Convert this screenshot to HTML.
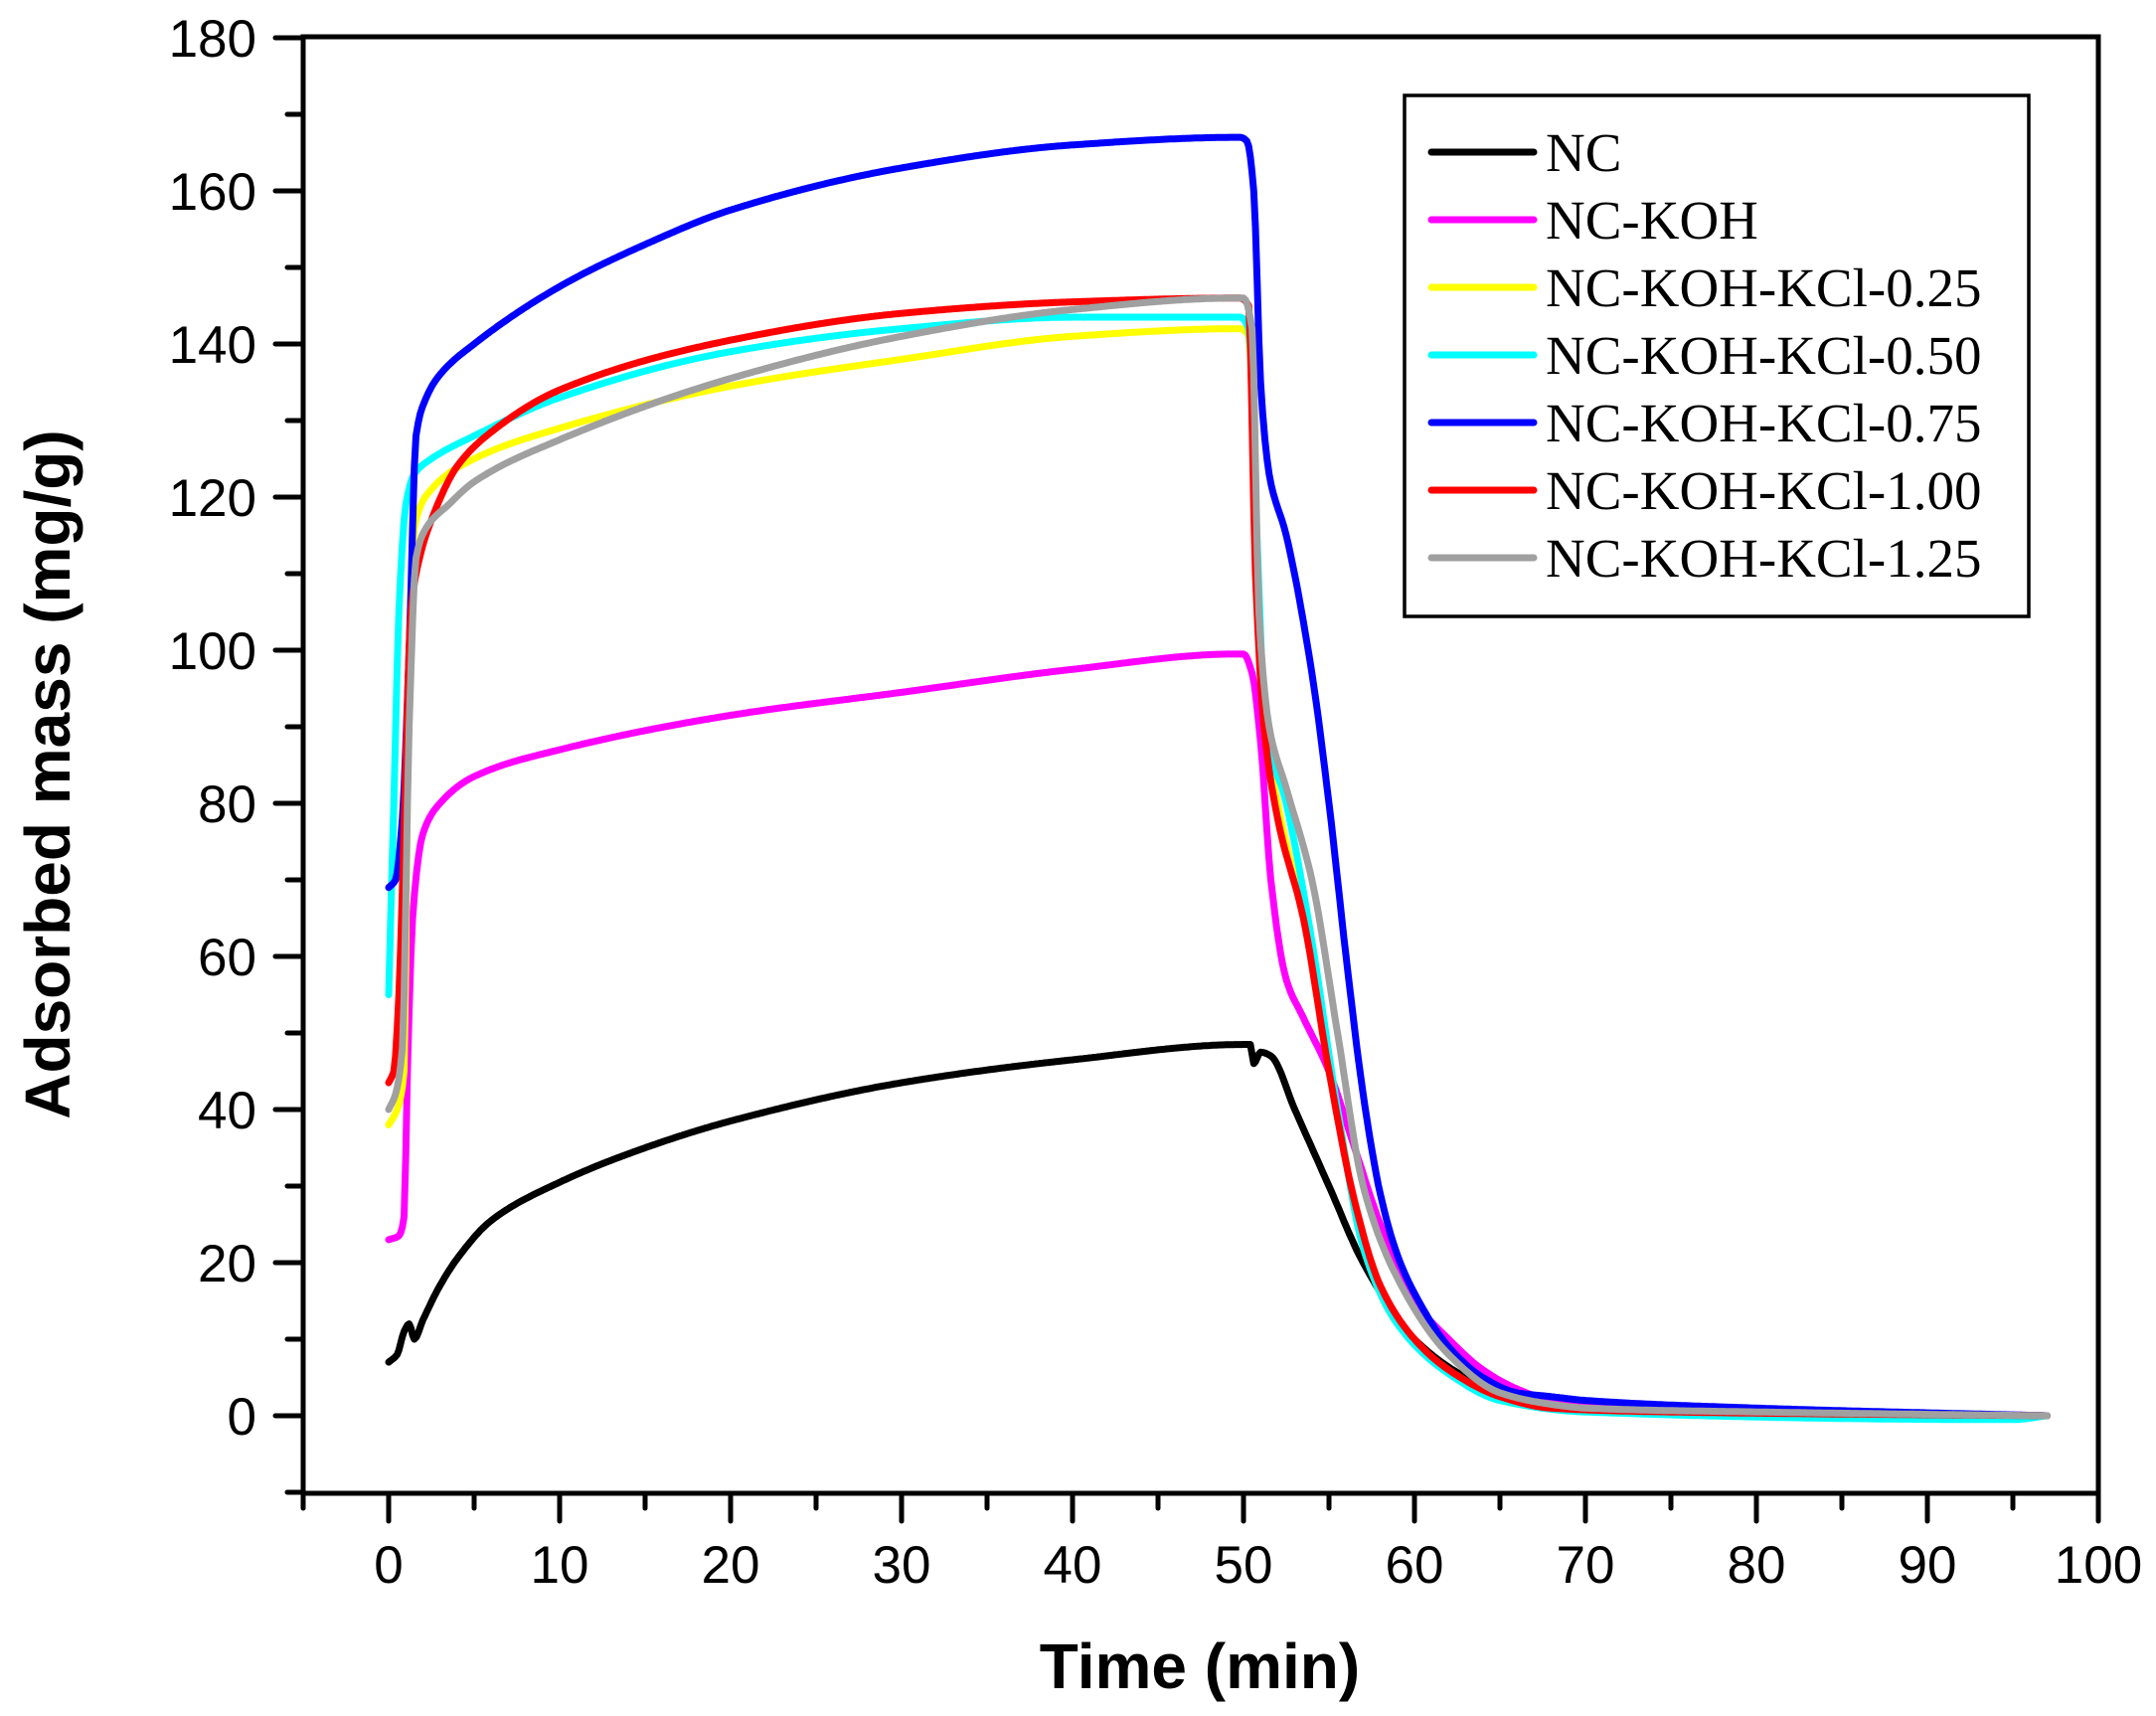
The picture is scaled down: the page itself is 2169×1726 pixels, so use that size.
<!DOCTYPE html>
<html><head><meta charset="utf-8"><style>
html,body{margin:0;padding:0;background:#fff;}
svg{display:block;}
</style></head><body>
<svg id="s" width="2169" height="1726" viewBox="0 0 2169 1726" xmlns="http://www.w3.org/2000/svg">
<g id="curves" fill="none" stroke-width="7" stroke-linejoin="round" stroke-linecap="round"></g>
<g id="axes" stroke="#000" stroke-width="5" stroke-linecap="round" fill="none"></g>
<g id="labels" font-family="Liberation Sans, Arial, sans-serif" font-size="53" fill="#000"></g>
<text x="1207" y="1698" font-family="Liberation Sans, Arial, sans-serif" font-weight="bold" font-size="64" text-anchor="middle">Time (min)</text>
<text transform="translate(70,779) rotate(-90)" font-family="Liberation Sans, Arial, sans-serif" font-weight="bold" font-size="64" text-anchor="middle">Adsorbed mass (mg/g)</text>
<rect x="1413" y="96" width="628" height="524" fill="none" stroke="#000" stroke-width="3.5"/>
<g id="legend" font-family="Liberation Serif, Times New Roman, serif" font-size="55" fill="#000"></g>
</svg>
<script>
const X=t=>391+17.2*t, Y=v=>1424-7.7*v;
const NS="http://www.w3.org/2000/svg";
function el(p,tag,a,txt){const e=document.createElementNS(NS,tag);for(const k in a)e.setAttribute(k,a[k]);if(txt!==undefined)e.textContent=txt;p.appendChild(e);return e;}
const ax=document.getElementById('axes'), lb=document.getElementById('labels');
const L=305,R=2111,T=37,B=1502;
el(ax,'rect',{x:L,y:T,width:R-L,height:B-T,'stroke-linecap':'butt'});
for(let v=-10;v<=180;v+=10){const y=Y(v);const maj=v%20==0;el(ax,'line',{x1:L,y1:y,x2:L-(maj?28:16),y2:y});
 if(maj) el(lb,'text',{x:258,y:y+19,'text-anchor':'end'},String(v));}
for(let t=-5;t<=100;t+=5){const x=X(t);const maj=t%10==0;el(ax,'line',{x1:x,y1:B,x2:x,y2:B+(maj?28:15)});
 if(maj) el(lb,'text',{x:x,y:1592,'text-anchor':'middle'},String(t));}
function mono(p){ // monotone cubic interpolation
 const n=p.length,xs=p.map(q=>q[0]),ys=p.map(q=>q[1]);const d=[],m=[];
 for(let i=0;i<n-1;i++)d.push((ys[i+1]-ys[i])/(xs[i+1]-xs[i]));
 m[0]=d[0];m[n-1]=d[n-2];
 for(let i=1;i<n-1;i++){ if(d[i-1]*d[i]<=0)m[i]=0; else { const w1=2*(xs[i+1]-xs[i])+(xs[i]-xs[i-1]),w2=(xs[i+1]-xs[i])+2*(xs[i]-xs[i-1]); m[i]=(w1+w2)/(w1/d[i-1]+w2/d[i]); } }
 const out=[];
 for(let i=0;i<n-1;i++){const h=xs[i+1]-xs[i];const N=Math.max(2,Math.ceil(h*8));
  for(let k=0;k<N;k++){const s=k/N,s2=s*s,s3=s2*s;
   const y=(2*s3-3*s2+1)*ys[i]+(s3-2*s2+s)*h*m[i]+(-2*s3+3*s2)*ys[i+1]+(s3-s2)*h*m[i+1];
   out.push([xs[i]+s*h,y]);}}
 out.push(p[n-1]);return out;}
const S={
'#000':[[0,7],[0.5,8],[0.9,11],[1.2,12],[1.5,10],[2,12.5],[3,17],[4,20.5],[6,25.5],[10,30.5],[15,35],[20,38.5],[30,43.5],[40,46.5],[50,48.5],[50.4,48.5],[50.6,46],[51,47.5],[51.6,47],[53,40],[55,30],[57,20],[60,10],[63,5],[66,2],[70,1],[80,0.5],[97,0]],
'#ff00ff':[[0,23],[0.6,23.5],[0.9,26],[1.1,45],[1.4,65],[2,76],[3,80],[5,83.5],[10,87],[20,91.5],[30,94.5],[40,97.5],[49.5,99.5],[50,99.5],[50.5,97],[51,88],[51.6,70],[52.5,57],[53.5,52],[55,45],[56.5,35],[58,25],[60,15],[62,10],[64,6],[66,3.5],[68,2],[70,1.5],[80,0.8],[97,0]],
'#ffff00':[[0,38],[0.5,40],[0.9,45],[1.2,100],[1.5,116],[2.5,121],[5,125],[10,129],[20,134.5],[30,138],[40,141],[49.8,142],[50.3,141],[50.7,120],[51.2,90],[52,80],[54,60],[55.5,40],[57,22],[59,12],[62,6],[65,2],[68,1],[75,0.5],[97,0]],
'#00ffff':[[0,55],[0.3,80],[0.6,105],[1,119],[1.5,123],[2.5,125],[5,128],[10,133],[20,139],[30,142],[40,143.5],[49.8,143.5],[50.3,142],[50.7,120],[51.3,90],[52.5,80],[54,62],[55.5,40],[57,22],[59,12],[62,5.5],[65,2],[70,0.5],[95,-0.5],[97,0]],
'#0000ff':[[0,69],[0.4,70],[0.8,78],[1.2,100],[1.6,128],[2.2,133],[3,136],[5,140],[10,147.5],[15,153],[20,157.5],[30,163],[40,166],[49.8,167],[50.2,166.5],[50.6,160],[51,135],[51.5,123],[52.5,115],[54,97],[55,80],[56,60],[57,42],[58,29],[59,21],[60,16],[62,9],[64,5],[66,3],[68,2.5],[70,2],[80,1],[97,0]],
'#ff0000':[[0,43.5],[0.3,45],[0.6,55],[1,85],[1.3,105],[1.8,112],[2.5,117],[4,124],[6,128.5],[10,134],[20,140.5],[30,144],[40,145.5],[49.8,146],[50.3,145],[50.7,110],[51.2,90],[52,78],[53.5,65],[55,45],[56.5,28],[58,17],[60,10],[62,6],[65,2.5],[68,1],[75,0.5],[97,0]],
'#a0a0a0':[[0,40],[0.4,42],[0.8,48],[1.2,90],[1.6,112],[2.2,116],[3.5,119],[5,122],[10,127.5],[20,135.5],[30,141],[40,144.5],[49.5,146],[50,146],[50.5,142],[50.9,105],[51.5,90],[52.5,82],[54,70],[55.5,50],[57,30],[59,18],[62,8],[65,3],[68,1.5],[70,1],[80,0.5],[97,0]]
};
const order=['#000','#ff00ff','#ffff00','#00ffff','#0000ff','#ff0000','#a0a0a0'];
const cg=document.getElementById('curves');
order.forEach(c=>{const p=mono(S[c]);el(cg,'polyline',{points:p.map(q=>X(q[0]).toFixed(1)+','+Y(q[1]).toFixed(1)).join(' '),stroke:c});});
const lg=document.getElementById('legend');
const names=['NC','NC-KOH','NC-KOH-KCl-0.25','NC-KOH-KCl-0.50','NC-KOH-KCl-0.75','NC-KOH-KCl-1.00','NC-KOH-KCl-1.25'];
names.forEach((n,i)=>{const y=153+68*i;el(lg,'line',{x1:1440,y1:y,x2:1543,y2:y,stroke:order[i],'stroke-width':7,'stroke-linecap':'round'});
 el(lg,'text',{x:1555,y:y+19},n);});
</script>
</body></html>
